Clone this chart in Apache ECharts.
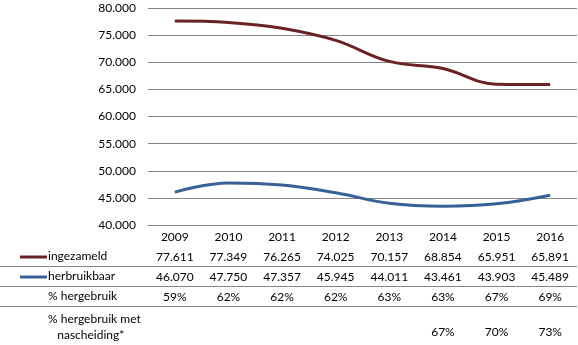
<!DOCTYPE html>
<html><head><meta charset="utf-8">
<script src="https://cdn.jsdelivr.net/npm/echarts@6/dist/echarts.min.js"></script>
<style>html,body{margin:0;padding:0;background:#fff}#c{width:578px;height:345px}</style>
</head><body><div id="c"></div>
<script>
var years = ['2009','2010','2011','2012','2013','2014','2015','2016'];
var ingezameld = [77611, 77349, 76265, 74025, 70157, 68854, 65951, 65891];
var herbruikbaar = [46070, 47750, 47357, 45945, 44011, 43461, 43903, 45489];
var pctHergebruik = ['59%','62%','62%','62%','63%','63%','67%','69%'];
var pctNascheiding = ['','','','','','67%','70%','73%'];
var yTicks = {min: 40000, max: 80000, step: 5000};
var rowLabels = ['ingezameld','herbruikbaar','% hergebruik','% hergebruik met\n   nascheiding*'];

function fmt(n){ var s = String(Math.round(n)); return s.replace(/\B(?=(\d{3})+(?!\d))/g, '.'); }

var FONT = 'Lato';
var RED = '#6A2225', BLUE = '#386099';
var chart = echarts.init(document.getElementById('c'));

function tableAxis(data, offset){
  return {
    type: 'category', data: data, gridIndex: 0, position: 'bottom', offset: offset,
    boundaryGap: true,
    axisLine: {show: false}, axisTick: {show: false}, splitLine: {show: false},
    axisLabel: {interval: 0, margin: 6, color: '#000', fontFamily: FONT, fontSize: 12}
  };
}

var option = {
  animation: false,
  grid: {left: 148, right: 1, top: 8, bottom: 120, containLabel: false},
  xAxis: [
    {
      type: 'category', data: years, boundaryGap: true, position: 'bottom',
      axisLine: {show: true, lineStyle: {color: '#868686', width: 1}},
      axisTick: {show: false},
      axisLabel: {interval: 0, margin: 6, color: '#000', fontFamily: FONT, fontSize: 12}
    },
    tableAxis(ingezameld.map(fmt), 20),
    tableAxis(herbruikbaar.map(fmt), 40),
    tableAxis(pctHergebruik, 60),
    tableAxis(pctNascheiding, 95)
  ],
  yAxis: {
    type: 'value', min: yTicks.min, max: yTicks.max, interval: yTicks.step,
    axisLine: {show: false}, axisTick: {show: false},
    splitLine: {lineStyle: {color: '#868686', width: 1}},
    axisLabel: {margin: 12, color: '#000', fontFamily: FONT, fontSize: 12, formatter: function(v){ return fmt(v); }}
  },
  series: [
    {name: 'ingezameld', type: 'line', data: ingezameld, smooth: 0.4, symbol: 'none',
     lineStyle: {color: RED, width: 3}, itemStyle: {color: RED}},
    {name: 'herbruikbaar', type: 'line', data: herbruikbaar, smooth: 0.4, symbol: 'none',
     lineStyle: {color: BLUE, width: 3}, itemStyle: {color: BLUE}}
  ],
  graphic: [
    {type: 'line', shape: {x1: 20, y1: 257, x2: 47, y2: 257}, style: {stroke: RED, lineWidth: 3}},
    {type: 'line', shape: {x1: 20, y1: 277, x2: 47, y2: 277}, style: {stroke: BLUE, lineWidth: 3}},
    {type: 'text', left: 48, top: 250, style: {text: rowLabels[0], fontFamily: FONT, fontSize: 12, fill: '#000'}},
    {type: 'text', left: 48, top: 270, style: {text: rowLabels[1], fontFamily: FONT, fontSize: 12, fill: '#000'}},
    {type: 'text', left: 48, top: 290, style: {text: rowLabels[2], fontFamily: FONT, fontSize: 12, fill: '#000'}},
    {type: 'text', left: 48, top: 311, style: {text: rowLabels[3], fontFamily: FONT, fontSize: 12, lineHeight: 16, fill: '#000'}},
    {type: 'line', shape: {x1: 0, y1: 266.5, x2: 577, y2: 266.5}, style: {stroke: '#868686', lineWidth: 1}},
    {type: 'line', shape: {x1: 0, y1: 286.5, x2: 577, y2: 286.5}, style: {stroke: '#868686', lineWidth: 1}},
    {type: 'line', shape: {x1: 0, y1: 306.5, x2: 577, y2: 306.5}, style: {stroke: '#868686', lineWidth: 1}}
  ]
};
chart.setOption(option);
</script>
</body></html>
